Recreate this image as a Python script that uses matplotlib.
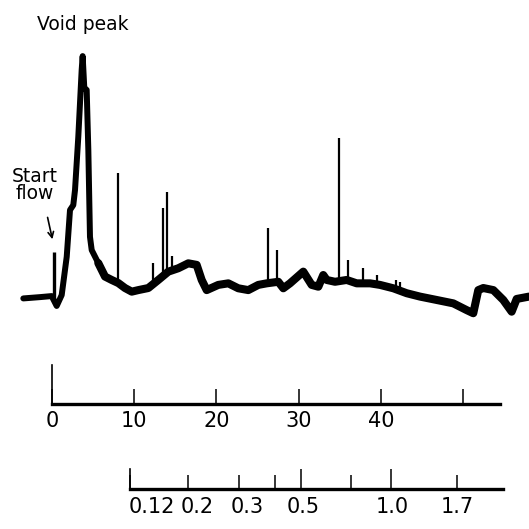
import numpy as np
import matplotlib.pyplot as plt
import matplotlib.transforms as mtransforms

# elution trace (time in min, absorbance in arbitrary units)
time = [-3.49, -1.46, -0.04, 0.57, 1.18, 1.79, 2.19, 2.59, 2.80, 3.20, 3.61, 3.73,
        3.93, 4.22, 4.42, 4.62, 4.83, 5.63, 6.45, 7.26, 8.07, 8.88, 9.70, 10.50,
        11.72, 12.93, 14.15, 15.36, 16.58, 17.60, 18.21, 18.82, 20.23, 21.45,
        22.66, 23.88, 25.10, 26.12, 27.53, 28.14, 28.95, 30.57, 31.59, 32.40,
        33.00, 33.42, 34.43, 35.85, 37.07, 38.69, 39.90, 41.52, 43.15, 44.77,
        46.80, 48.82, 50.45, 51.25, 51.86, 52.47, 53.69, 54.90, 55.92, 56.53, 58.03]
absorb = [0.083, 0.088, 0.092, 0.054, 0.096, 0.243, 0.423, 0.442, 0.500, 0.705,
          0.962, 1.015, 0.892, 0.885, 0.654, 0.320, 0.269, 0.219, 0.167, 0.154,
          0.142, 0.123, 0.109, 0.115, 0.123, 0.154, 0.186, 0.199, 0.218, 0.212,
          0.154, 0.115, 0.135, 0.141, 0.122, 0.115, 0.135, 0.141, 0.147, 0.122,
          0.141, 0.186, 0.135, 0.128, 0.173, 0.154, 0.147, 0.154, 0.141, 0.141,
          0.135, 0.122, 0.103, 0.090, 0.077, 0.064, 0.038, 0.026, 0.115, 0.123,
          0.115, 0.077, 0.032, 0.081, 0.090]

# sharp spikes on the trace
spike_t = [8.07, 12.32, 13.50, 14.05, 14.56, 26.31, 27.41, 34.95, 36.05, 37.87, 39.50, 41.88, 42.34]
spike_a = [0.565, 0.219, 0.431, 0.492, 0.246, 0.353, 0.269, 0.699, 0.231, 0.200, 0.173, 0.154, 0.147]
start_t = 0.28
start_a = 0.263

# time scale (min)
time_ticks = [0, 10, 20, 30, 40, 50]
time_labels = ['0', '10', '20', '30', '40', '']

# second scale, calibration
mw_ticks = ['0.12', '0.2', '0.3', '', '0.5', '', '1.0', '1.7']
mw_elution = [9.49, 16.55, 22.75, 27.13, 30.29, 36.37, 41.24, 49.27]
mw_long = ['0.5', '1.0']

W = 529
fig = plt.figure(figsize=(5.29, 5.29), dpi=100)

def px_rect(x0, y0, x1, y1):
    return [x0 / W, (W - y1) / W, (x1 - x0) / W, (y1 - y0) / W]

# trace
ax = fig.add_axes(px_rect(0, 40, 529, 320))
t = np.array(time)
a = np.array(absorb)
ax.plot(t, a, color='black', lw=4.3, solid_joinstyle='round', solid_capstyle='round')
# the noisy baseline after the void peak is drawn wider
tail = t >= 5.6
ax.plot(t[tail], a[tail], color='black', lw=5.8, solid_joinstyle='round', solid_capstyle='round')
base = np.interp(spike_t, time, absorb)
ax.vlines(spike_t, base, spike_a, color='black', lw=1.6)
ax.vlines(start_t, np.interp(start_t, time, absorb), start_a, color='black', lw=2.4)
ax.set_xlim(-52 / 8.22, 477 / 8.22)
ax.set_ylim(0, 280 / 260)
ax.axis('off')

ax.text(3.73, 1.135, 'Void peak', ha='center', va='center', fontsize=13.5)
ax.text(-2.07, 0.52, 'Start\nflow', ha='center', va='center', fontsize=13.5, linespacing=0.9)
ax.annotate('', xy=(0.12, 0.3), xytext=(-0.61, 0.405),
            arrowprops=dict(arrowstyle='->', color='black', lw=1.2))

# time axis
ax2 = fig.add_axes(px_rect(52, 365, 500, 404))
ax2.set_xlim(0, 448 / 8.22)
ax2.set_ylim(0, 1)
for s in ['top', 'right']:
    ax2.spines[s].set_visible(False)
ax2.spines['bottom'].set_linewidth(2.4)
ax2.spines['left'].set_linewidth(1.2)
ax2.set_yticks([])
ax2.set_xticks(time_ticks, time_labels)
ax2.tick_params(axis='x', direction='in', length=10.5, width=1.1, pad=5, labelsize=15)

# second scale
ax3 = fig.add_axes(px_rect(130, 469, 503, 489))
ax3.set_xlim(mw_elution[0], mw_elution[0] + 373 / 8.22)
ax3.set_ylim(0, 1)
for s in ['top', 'right']:
    ax3.spines[s].set_visible(False)
ax3.spines['bottom'].set_linewidth(2.4)
ax3.spines['left'].set_linewidth(1.2)
ax3.set_yticks([])
ax3.set_xticks(mw_elution, mw_ticks)
ax3.tick_params(axis='x', direction='in', length=10, width=1.1, pad=6, labelsize=15)
for tk, lab in zip(ax3.xaxis.get_major_ticks(), mw_ticks):
    if lab in mw_long:
        tk.tick1line.set_markersize(14.5)
shifts = [22, 9, 8, 0, 2, 0, 1, 0]
for lab, dx in zip(ax3.get_xticklabels(), shifts):
    lab.set_transform(lab.get_transform() + mtransforms.ScaledTranslation(dx / 100, 0, fig.dpi_scale_trans))

fig.savefig('out.png', dpi=100)
